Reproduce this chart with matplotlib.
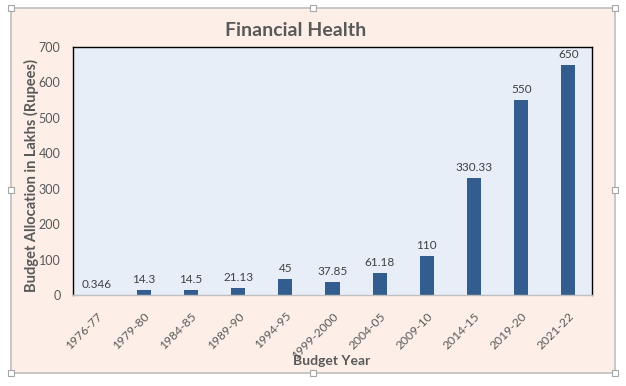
import numpy as np
import matplotlib
matplotlib.use('Agg')
import matplotlib.pyplot as plt
from matplotlib.patches import Rectangle

# Budget allocation per year (lakhs of rupees)
years = ['1976-77', '1979-80', '1984-85', '1989-90', '1994-95', '1999-2000',
         '2004-05', '2009-10', '2014-15', '2019-20', '2021-22']
allocation = [0.346, 14.3, 14.5, 21.13, 45, 37.85, 61.18, 110, 330.33, 550, 650]
value_labels = ['0.346', '14.3', '14.5', '21.13', '45', '37.85', '61.18',
                '110', '330.33', '550', '650']
y_ticks = [0, 100, 200, 300, 400, 500, 600, 700]

plt.rcParams['font.family'] = ['Lato', 'DejaVu Sans']
W, H = 626, 386
fig = plt.figure(figsize=(W / 100, H / 100), dpi=100)
fig.patch.set_facecolor('white')

# Chart area (peach) with grey frame
frame = Rectangle((11 / W, 1 - 373 / H), 604 / W, 365 / H,
                  transform=fig.transFigure, facecolor='#FDEFE8',
                  edgecolor='#BFBFBF', linewidth=1.2, zorder=-10)
fig.add_artist(frame)

ax = fig.add_axes([73 / W, 1 - 295 / H, 519 / W, 248 / H])
ax.set_facecolor('#E7EEF8')

x = np.arange(len(years))
ax.bar(x, allocation, width=0.3, color='#335D8F', zorder=2)
for xi, v, lab in zip(x, allocation, value_labels):
    ax.text(xi, v + 14, lab, ha='center', va='bottom', fontsize=8.5,
            color='#404040')

ax.set_xlim(-0.5, len(years) - 0.5)
ax.set_ylim(0, 700)
ax.set_yticks(y_ticks)
ax.set_xticks(x)
ax.set_xticklabels(years, rotation=45, ha='right', rotation_mode='anchor',
                   fontsize=8.7)
ax.tick_params(axis='both', length=0, labelcolor='#595959')
ax.tick_params(axis='y', labelsize=9, pad=9)
ax.tick_params(axis='x', pad=11)

for side in ['top', 'right', 'left']:
    ax.spines[side].set_color('black')
    ax.spines[side].set_linewidth(1.0)
ax.spines['bottom'].set_color('#BFBFBF')
ax.spines['bottom'].set_linewidth(1.0)

fig.text(296 / W, 1 - 30 / H, 'Financial Health', ha='center', va='center',
         fontsize=14, fontweight='bold', color='#595959')
fig.text(332 / W, 1 - 361 / H, 'Budget Year', ha='center', va='center',
         fontsize=10, fontweight='bold', color='#595959')
fig.text(31 / W, 1 - 176 / H, 'Budget Allocation in Lakhs (Rupees)',
         ha='center', va='center', rotation=90, fontsize=10.5,
         fontweight='bold', color='#595959')

# selection handles on the frame
hx = [11, 313, 615, 11, 615, 11, 313, 615]
hy = [8, 8, 8, 190, 190, 373, 373, 373]
fig.add_artist(plt.Line2D([v / W for v in hx], [1 - v / H for v in hy],
                          transform=fig.transFigure, linestyle='none',
                          marker='s', markersize=5, markerfacecolor='white',
                          markeredgecolor='#A6A6A6', markeredgewidth=0.8))

fig.savefig('out.png', dpi=100)
